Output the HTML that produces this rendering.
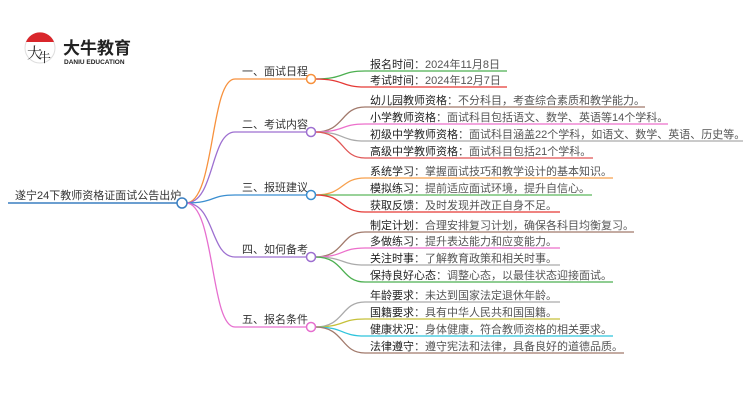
<!DOCTYPE html>
<html><head><meta charset="utf-8"><style>
html,body{margin:0;padding:0;background:#fff;}
svg{display:block;font-family:"Liberation Sans","Noto Sans CJK SC",sans-serif;}
.b{font-size:11px;fill:#333;}
.l{font-size:11px;fill:#555;}
.l tspan.k{fill:#222;}
</style></head><body>
<svg width="750" height="410" viewBox="0 0 750 410" xmlns="http://www.w3.org/2000/svg">
<!-- logo -->
<circle cx="40" cy="48" r="15" fill="#fff" stroke="#ddd" stroke-width="1"/>
<path d="M26 42 A15 15 0 0 1 54 42 Z" fill="#d9262b"/>
<text x="27" y="58" font-size="15" fill="#222" font-family="Noto Serif CJK SC,serif">大</text>
<text x="38" y="62" font-size="13" fill="#222" font-family="Noto Serif CJK SC,serif">牛</text>
<text x="63" y="54" font-size="17" font-weight="bold" fill="#222">大牛教育</text>
<text x="64" y="64" font-size="6.5" fill="#222" font-weight="bold">DANIU EDUCATION</text>

<!-- root -->
<line x1="8" y1="203" x2="178" y2="203" stroke="#3a7fc1" stroke-width="1.5"/>
<text x="15" y="199" class="b">遂宁24下教师资格证面试公告出炉</text>

<!-- branches -->
<g fill="none" stroke-width="1.3">
<path d="M186 203 C215 203 210 79 235 79 L307 79" stroke="#f7913d"/>
<path d="M186 203 C215 203 210 132 235 132 L307 132" stroke="#9d6fd0"/>
<path d="M186 203 C215 203 210 195 235 195 L307 195" stroke="#3a8ed0"/>
<path d="M186 203 C215 203 210 257 235 257 L307 257" stroke="#9d6fd0"/>
<path d="M186 203 C215 203 210 327 235 327 L307 327" stroke="#e66fcf"/>
</g>
<circle cx="182" cy="203" r="5" fill="#fff" stroke="#3a7fc1" stroke-width="1.5"/>
<g class="b">
<text x="242" y="75">一、面试日程</text>
<text x="242" y="128">二、考试内容</text>
<text x="242" y="191">三、报班建议</text>
<text x="242" y="253">四、如何备考</text>
<text x="242" y="323">五、报名条件</text>
</g>

<!-- leaves -->
<g fill="none" stroke-width="1.3">
<path d="M315 79 C345 79 340 71 365 71 L507 71" stroke="#4caf50"/>
<path d="M315 79 C345 79 340 87 365 87 L507 87" stroke="#e53935"/>
<path d="M315 132 C345 132 340 107 365 107 L645 107" stroke="#a1796b"/>
<path d="M315 132 C345 132 340 124 365 124 L668 124" stroke="#ec6fcb"/>
<path d="M315 132 C345 132 340 141 365 141 L743 141" stroke="#aaa"/>
<path d="M315 132 C345 132 340 158 365 158 L593 158" stroke="#e05555"/>
<path d="M315 195 C345 195 340 178 365 178 L613 178" stroke="#f7a04d"/>
<path d="M315 195 C345 195 340 195 365 195 L592 195" stroke="#5cb85c"/>
<path d="M315 195 C345 195 340 212 365 212 L560 212" stroke="#e53935"/>
<path d="M315 257 C345 257 340 232 365 232 L634 232" stroke="#a1796b"/>
<path d="M315 257 C345 257 340 248 365 248 L560 248" stroke="#ec6fcb"/>
<path d="M315 257 C345 257 340 265 365 265 L560 265" stroke="#aaa"/>
<path d="M315 257 C345 257 340 282 365 282 L613 282" stroke="#4caf50"/>
<path d="M315 327 C345 327 340 302 365 302 L560 302" stroke="#aaa"/>
<path d="M315 327 C345 327 340 319 365 319 L560 319" stroke="#c6c13a"/>
<path d="M315 327 C345 327 340 336 365 336 L613 336" stroke="#2ec4dc"/>
<path d="M315 327 C345 327 340 353 365 353 L624 353" stroke="#a1796b"/>
</g>
<circle cx="311" cy="79" r="4.5" fill="#fff" stroke="#f7913d" stroke-width="1.5"/>
<circle cx="311" cy="132" r="4.5" fill="#fff" stroke="#9d6fd0" stroke-width="1.5"/>
<circle cx="311" cy="195" r="4.5" fill="#fff" stroke="#3a8ed0" stroke-width="1.5"/>
<circle cx="311" cy="257" r="4.5" fill="#fff" stroke="#9d6fd0" stroke-width="1.5"/>
<circle cx="311" cy="327" r="4.5" fill="#fff" stroke="#e66fcf" stroke-width="1.5"/>

<g class="l">
<text x="370" y="68"><tspan class="k">报名时间</tspan>：2024年11月8日</text>
<text x="370" y="84"><tspan class="k">考试时间</tspan>：2024年12月7日</text>
<text x="370" y="104"><tspan class="k">幼儿园教师资格</tspan>：不分科目，考查综合素质和教学能力。</text>
<text x="370" y="121"><tspan class="k">小学教师资格</tspan>：面试科目包括语文、数学、英语等14个学科。</text>
<text x="370" y="138"><tspan class="k">初级中学教师资格</tspan>：面试科目涵盖22个学科，如语文、数学、英语、历史等。</text>
<text x="370" y="155"><tspan class="k">高级中学教师资格</tspan>：面试科目包括21个学科。</text>
<text x="370" y="175"><tspan class="k">系统学习</tspan>：掌握面试技巧和教学设计的基本知识。</text>
<text x="370" y="192"><tspan class="k">模拟练习</tspan>：提前适应面试环境，提升自信心。</text>
<text x="370" y="209"><tspan class="k">获取反馈</tspan>：及时发现并改正自身不足。</text>
<text x="370" y="229"><tspan class="k">制定计划</tspan>：合理安排复习计划，确保各科目均衡复习。</text>
<text x="370" y="245"><tspan class="k">多做练习</tspan>：提升表达能力和应变能力。</text>
<text x="370" y="262"><tspan class="k">关注时事</tspan>：了解教育政策和相关时事。</text>
<text x="370" y="279"><tspan class="k">保持良好心态</tspan>：调整心态，以最佳状态迎接面试。</text>
<text x="370" y="299"><tspan class="k">年龄要求</tspan>：未达到国家法定退休年龄。</text>
<text x="370" y="316"><tspan class="k">国籍要求</tspan>：具有中华人民共和国国籍。</text>
<text x="370" y="333"><tspan class="k">健康状况</tspan>：身体健康，符合教师资格的相关要求。</text>
<text x="370" y="350"><tspan class="k">法律遵守</tspan>：遵守宪法和法律，具备良好的道德品质。</text>
</g>
</svg>
</body></html>
